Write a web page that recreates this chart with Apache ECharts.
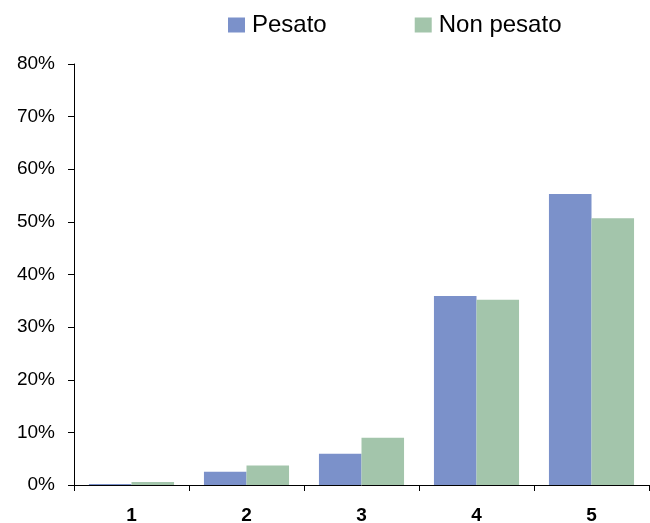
<!DOCTYPE html>
<html><head><meta charset="utf-8">
<script src="https://cdn.jsdelivr.net/npm/echarts@6/dist/echarts.min.js"></script>
<style>html,body{margin:0;padding:0;background:#fff}#c{width:650px;height:523px}</style>
</head><body><div id="c"></div>
<script>
const categories = ['1','2','3','4','5'];
const pesato = [0.2, 2.5, 5.95, 35.9, 55.3];
const nonPesato = [0.55, 3.7, 9.0, 35.2, 50.7];
const seriesNames = ['Pesato','Non pesato'];
const yTicks = {min:0, max:80, interval:10};

const chart = echarts.init(document.getElementById('c'), null, {renderer:'canvas'});
const font = '"Liberation Sans", Arial, sans-serif';
chart.setOption({
  animation:false,
  textStyle:{fontFamily:font},
  legend:{
    left:228, top:13, padding:0, itemWidth:17, itemHeight:15, itemGap:88,
    icon:'rect',
    textStyle:{fontSize:24, color:'#000', fontFamily:font, padding:[0,0,0,2]},
    data:seriesNames
  },
  grid:{left:74, right:1, top:64, bottom:38, containLabel:false, outerBoundsMode:'none'},
  xAxis:{
    type:'category', data:categories,
    axisLine:{lineStyle:{color:'#000', width:1}},
    axisTick:{show:true, alignWithLabel:false, length:6, lineStyle:{color:'#000'}},
    axisLabel:{fontSize:19, fontWeight:'bold', color:'#000', margin:21, fontFamily:font},
  },
  yAxis:{
    type:'value', min:yTicks.min, max:yTicks.max, interval:yTicks.interval,
    axisLine:{show:true, lineStyle:{color:'#000', width:1}},
    axisTick:{show:true, length:6, lineStyle:{color:'#000'}},
    splitLine:{show:false},
    axisLabel:{fontSize:19, color:'#000', margin:19, formatter:v=>v+'%', fontFamily:font}
  },
  series:[
    {name:seriesNames[0], type:'bar', data:pesato, barGap:'0%', barCategoryGap:'26%', itemStyle:{color:'#7B91CA'}},
    {name:seriesNames[1], type:'bar', data:nonPesato, barGap:'0%', barCategoryGap:'26%', itemStyle:{color:'#A3C5AB'}}
  ]
});
</script></body></html>
